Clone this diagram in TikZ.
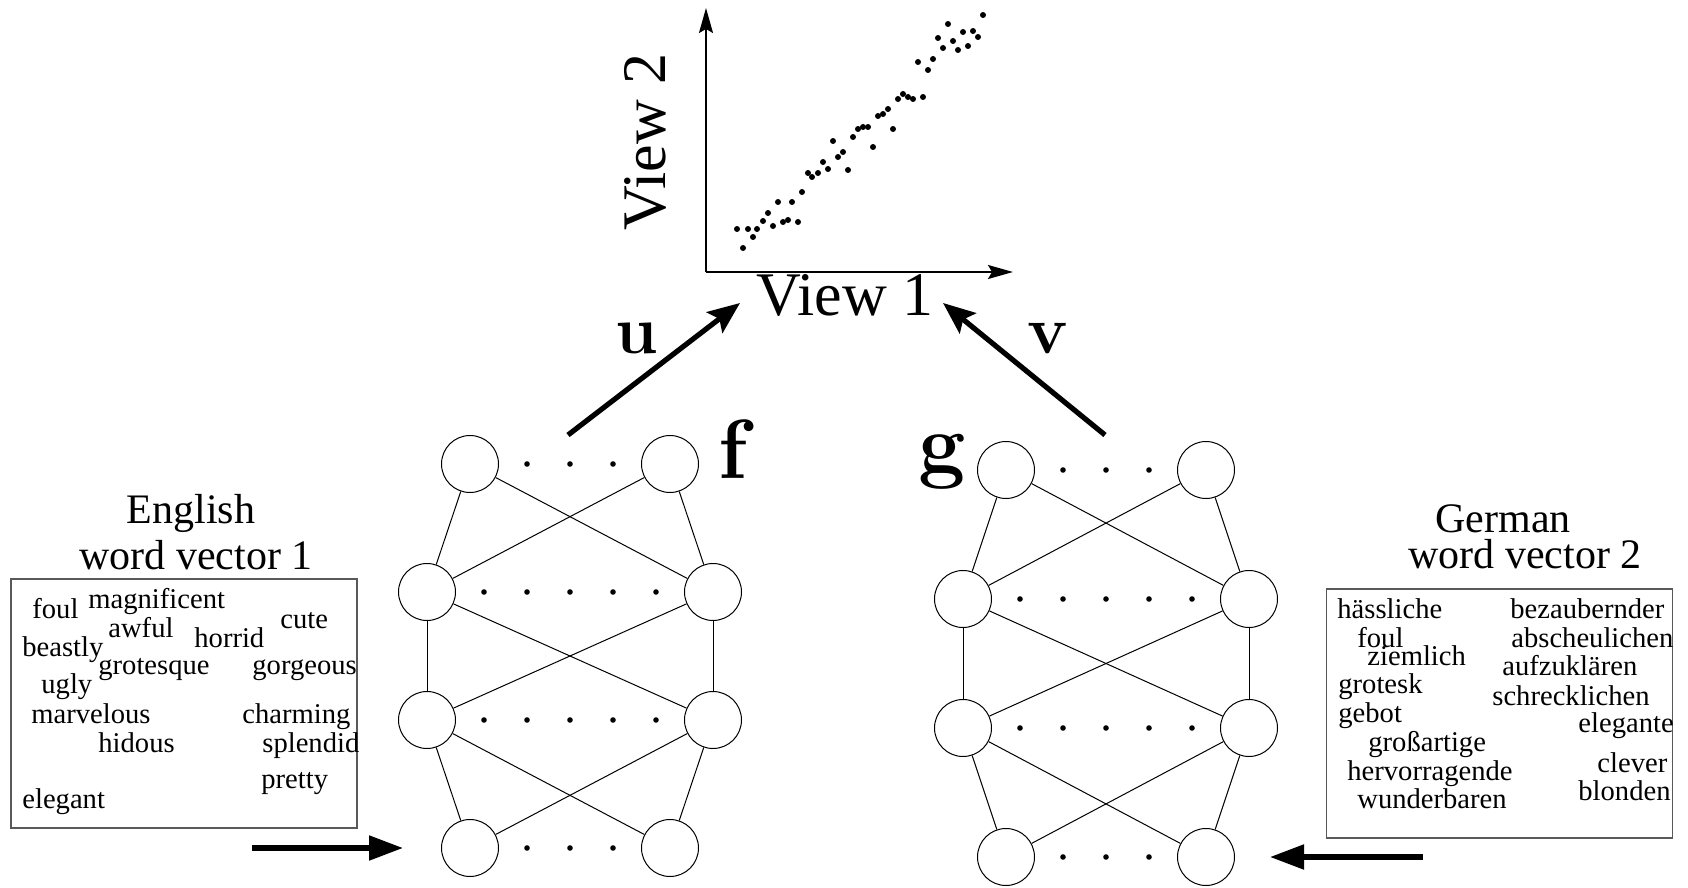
\documentclass[tikz,border=0pt]{standalone}
\usepackage{fontspec}
\setmainfont{Liberation Serif}
\usetikzlibrary{arrows.meta}
\tikzset{
  neuron/.style={draw,circle,minimum size=28.5pt,inner sep=0pt,line width=0.5pt},
  link/.style={line width=0.5pt},
  word/.style={anchor=base west,inner sep=0pt,font=\fontsize{14.3}{16}\selectfont},
  title/.style={anchor=base,inner sep=0pt,font=\fontsize{21}{25}\selectfont},
  wordbox/.style={draw=black!65,line width=0.6pt,minimum width=173pt,minimum height=124.5pt,inner sep=0pt},
  maparrow/.style={line width=2.6pt,-{Stealth[length=16pt,width=13pt,inset=3pt]}},
  inarrow/.style={line width=2.6pt,-{Triangle[length=17pt,width=12pt]}},
  axisline/.style={line width=1pt,-{Stealth[length=12.5pt,width=7pt,inset=2pt]}},
  netlabel/.style={anchor=base,inner sep=0pt,font=\fontfamily{lmr}\fontseries{bx}\fontshape{n}\fontsize{42}{50}\selectfont},
  projlabel/.style={anchor=base,inner sep=0pt,font=\fontfamily{lmr}\fontseries{bx}\fontshape{n}\fontsize{34}{40}\selectfont},
  viewlabel/.style={anchor=base,inner sep=0pt,font=\fontsize{31}{36}\selectfont},
}

\begin{document}
\begin{tikzpicture}[x=0.5pt,y=-0.5pt]
  \useasboundingbox (0,0) rectangle (1688,888);

  % scatter plot of the two views
  \coordinate (origin) at (706,272);
  \coordinate (ytip) at (706,8);
  \coordinate (xtip) at (1013,272);
  \draw[axisline] (origin) -- (ytip);
  \draw[axisline] (origin) -- (xtip);
  \node[viewlabel] (view1) at (845,315) {View 1};
  \node[viewlabel,rotate=90] (view2) at (665,142) {View 2};
  \foreach \px/\py in {737/229,743/248,748/229,753/237,757/229,763/221,768/213,773/226,
      778/202,783/222,788/220,792/202,798/222,802/192,808/173,812/177,818/173,823/162,
      828/169,833/141,838/157,843/152,848/170,853/137,858/129,863/127,868/127,873/147,
      878/116,883/114,888/109,893/129,898/99,903/94,908/97,913/99,923/97,918/62,928/70,
      933/59,938/38,943/48,948/24,953/41,958/50,963/32,968/46,973/31,978/37,983/15} {
    \fill (\px,\py) circle (1.5pt);
  }

  % the two networks: rows of neurons, outer rows narrower
  \foreach \net/\cx/\cy/\dy in {f/570/464/128, g/1106/470/129} {
    \foreach \r/\w in {0/100,1/143,2/143,3/100} {
      \node[neuron] (\net-\r-l) at (\cx-\w,\cy+\r*\dy) {};
      \node[neuron] (\net-\r-r) at (\cx+\w,\cy+\r*\dy) {};
    }
    \foreach \r in {0,3} {
      \foreach \k in {-1,0,1}
        \fill (\cx+\k*43,\cy+\r*\dy) circle (1.4pt);
    }
    \foreach \r in {1,2} {
      \foreach \k in {-2,-1,0,1,2}
        \fill (\cx+\k*43,\cy+\r*\dy) circle (1.4pt);
    }
    \foreach \r [evaluate=\r as \s using int(\r+1)] in {0,1,2} {
      \draw[link] (\net-\r-l) -- (\net-\s-l);
      \draw[link] (\net-\r-l) -- (\net-\s-r);
      \draw[link] (\net-\r-r) -- (\net-\s-l);
      \draw[link] (\net-\r-r) -- (\net-\s-r);
    }
  }
  \node[netlabel] (flabel) at (733,478) {f};
  \node[netlabel] (glabel) at (942,472) {g};

  % projections u and v
  \coordinate (ustart) at (568,435);
  \coordinate (uend) at (740,303);
  \coordinate (vstart) at (1105,435);
  \coordinate (vend) at (943,303);
  \draw[maparrow] (ustart) -- (uend);
  \draw[maparrow] (vstart) -- (vend);
  \node[projlabel] (ulabel) at (637,353) {u};
  \node[projlabel] (vlabel) at (1048,353) {v};

  % English word vectors
  \node[title] (entitle) at (191,523) {English};
  \node[title] (ensub) at (196,569) {word vector 1};
  \node[wordbox] (enbox) at (184,703.5) {};
  \foreach \w/\x/\y [count=\i] in {foul/32/618, magnificent/88/608, awful/108/637,
      horrid/194/647, cute/280/628, beastly/22/656, grotesque/98/674, gorgeous/252/674,
      ugly/41/693, marvelous/31/723, charming/242/723, hidous/98/752, splendid/262/752,
      pretty/261/788, elegant/22/808} {
    \node[word] (en\i) at (\x,\y) {\w};
  }

  % German word vectors
  \node[title] (detitle) at (1503,532) {German};
  \node[title] (desub) at (1525,568) {word vector 2};
  \node[wordbox] (debox) at (1499.5,713.5) {};
  \foreach \w/\x/\y [count=\i] in {hässliche/1337/618, foul/1357/647, ziemlich/1367/665,
      grotesk/1338/693, gebot/1338/722, großartige/1368/751, hervorragende/1347/780,
      wunderbaren/1357/808, bezaubernder/1510/618, abscheulichen/1511/647,
      aufzuklären/1502/675, schrecklichen/1492/705, elegante/1578/732, clever/1597/772,
      blonden/1578/800} {
    \node[word] (de\i) at (\x,\y) {\w};
  }

  % inputs into the networks
  \coordinate (enin) at (252,848);
  \coordinate (enout) at (403,848);
  \coordinate (dein) at (1423,857);
  \coordinate (deout) at (1270,857);
  \draw[inarrow] (enin) -- (enout);
  \draw[inarrow] (dein) -- (deout);
\end{tikzpicture}
\end{document}
